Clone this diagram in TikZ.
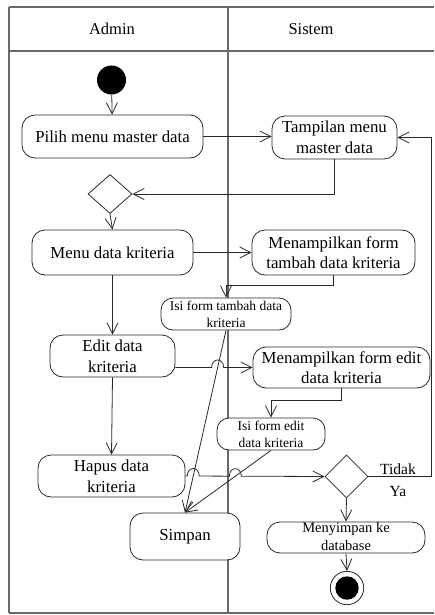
\documentclass[tikz,border=0pt]{standalone}
\usepackage{fontspec}
\setmainfont{Liberation Serif}
\usetikzlibrary{arrows.meta,shapes.geometric,calc,intersections}

\definecolor{lane}{RGB}{105,105,105}
\definecolor{ink}{RGB}{40,40,40}

\tikzset{
  lanebox/.style={draw=lane, line width=1.1pt},
  act/.style={draw=ink, line width=0.8pt, fill=white, rounded corners=13pt,
    align=center, inner sep=1pt, text=black,
    font=\fontsize{16.8}{20.5}\selectfont},
  smallact/.style={act, rounded corners=12pt, inner sep=0pt,
    font=\fontsize{13.5}{17}\selectfont},
  choice/.style={draw=ink, line width=0.8pt, fill=white, diamond, inner sep=0pt},
  flow/.style={draw=ink, line width=0.8pt, -{Straight Barb[length=11pt,width=11pt]}},
  lanetitle/.style={font=\fontsize{16.5}{19}\selectfont, text=black},
  guard/.style={font=\fontsize{15.5}{18}\selectfont, text=black, inner sep=0pt}
}

\begin{document}
\begin{tikzpicture}[x=1pt, y=-1pt]
\useasboundingbox (0,0) rectangle (434,615);

% swimlane frame
\draw[lanebox] (9,7) -- (434,7);
\draw[lanebox] (9,51) -- (434,51);
\draw[lanebox] (9,613) -- (434,613);
\draw[lanebox] (9,7) -- (9,613);
\draw[lanebox] (228,7) -- (228,613);
\node[lanetitle] (tadmin) at (112,29) {Admin};
\node[lanetitle] (tsistem) at (311,29) {Sistem};

% activities
\node[circle, fill=black, minimum size=29pt, inner sep=0pt] (start) at (111.5,80) {};
\node[act, minimum width=181pt, minimum height=43pt] (pilih) at (112.5,136.5) {Pilih menu master data};
\node[act, minimum width=125pt, minimum height=43pt] (tampil) at (334.5,137.5) {Tampilan menu\\master data};
\node[choice, minimum width=44pt, minimum height=39pt] (dec1) at (110,194) {};
\node[act, minimum width=161pt, minimum height=45pt] (menu) at (112.5,252.5) {Menu data kriteria};
\node[act, minimum width=163pt, minimum height=45pt] (mtambah) at (333.5,252.5) {Menampilkan form\\tambah data kriteria};
\node[smallact, minimum width=130pt, minimum height=32pt] (isi1) at (226,314) {Isi form tambah data\\kriteria};
\node[act, minimum width=125pt, minimum height=42pt] (edit) at (112.5,356) {Edit data\\kriteria};
\node[act, minimum width=177pt, minimum height=41pt] (medit) at (341.5,367.5) {Menampilkan form edit\\data kriteria};
\node[smallact, minimum width=108pt, minimum height=32pt] (isi2) at (271,434) {Isi form edit\\data kriteria};
\node[act, minimum width=147pt, minimum height=42pt] (hapus) at (111.5,476) {Hapus data\\kriteria};
\node[choice, minimum width=43pt, minimum height=43pt] (dec2) at (346.5,476.5) {};
\node[act, minimum width=110pt, minimum height=47pt] (simpan) at (185,536.5) {Simpan};
\node[act, minimum width=158pt, minimum height=31pt] (save) at (346,537.5) {};
\node[font=\fontsize{14.5}{18.5}\selectfont, align=center, inner sep=0pt] (savetext) at (346,536.5) {Menyimpan ke\\database};
\node[circle, draw=ink, line width=0.8pt, fill=white, minimum size=33.4pt, inner sep=0pt] (end) at (347,588) {};
\node[circle, fill=black, minimum size=23.4pt, inner sep=0pt] (endin) at (end) {};

\node[guard] (tidak) at (398,469) {Tidak};
\node[guard] (ya) at (398,491) {Ya};

% crossing points for the line hops
\coordinate (loop) at (431,0);
\path[name path=d1] (isi1.south) -- (simpan.north);
\path[name path=d2] (isi2.south) -- (simpan.north);
\path[name path=h1] (edit.east |- medit.west) -- (medit.west);
\path[name path=h2] (hapus.east) -- (dec2.west);
\path[name intersections={of=d1 and h1, by=c1}];
\path[name intersections={of=d1 and h2, by=c2}];
\path[name intersections={of=d2 and h2, by=c3}];

% control flow
\draw[flow] (start) -- (pilih);
\draw[flow] (pilih.east) -- (pilih.east -| tampil.west);
\draw[flow] (tampil.south) |- (dec1.east);
\draw[flow] (dec1.south) -- (menu.north);
\draw[flow] (menu.east) -- (menu.east -| mtambah.west);
\draw[flow] (mtambah.south) -- ++(0,10) -| (isi1.north);
\draw[flow] (menu.south) -- (edit.north);
\draw[flow] (edit.east |- medit.west)
  -- ($(c1)+(-6,0)$) .. controls ($(c1)+(-6,-10)$) and ($(c1)+(6,-10)$) .. ($(c1)+(6,0)$)
  -- (medit.west);
\draw[flow] (medit.south) -- ++(0,12) -| (isi2.north);
\draw[flow] (edit.south) -- (hapus.north);
\draw[flow] (hapus.east)
  -- ($(c2)+(-6,0)$) .. controls ($(c2)+(-6,-10)$) and ($(c2)+(6,-10)$) .. ($(c2)+(6,0)$)
  -- ($(c3)+(-6,0)$) .. controls ($(c3)+(-6,-10)$) and ($(c3)+(6,-10)$) .. ($(c3)+(6,0)$)
  -- (dec2.west);
\draw[flow] (isi1.south) -- (simpan.north);
\draw[flow] (isi2.south) -- (simpan.north);
\draw[flow] (dec2.east) -- (dec2.east -| loop) -- (loop |- tampil.east) -- (tampil.east);
\draw[flow] (dec2.south) -- (save.north);
\draw[flow] (save.south) -- (end.north);
\end{tikzpicture}
\end{document}
